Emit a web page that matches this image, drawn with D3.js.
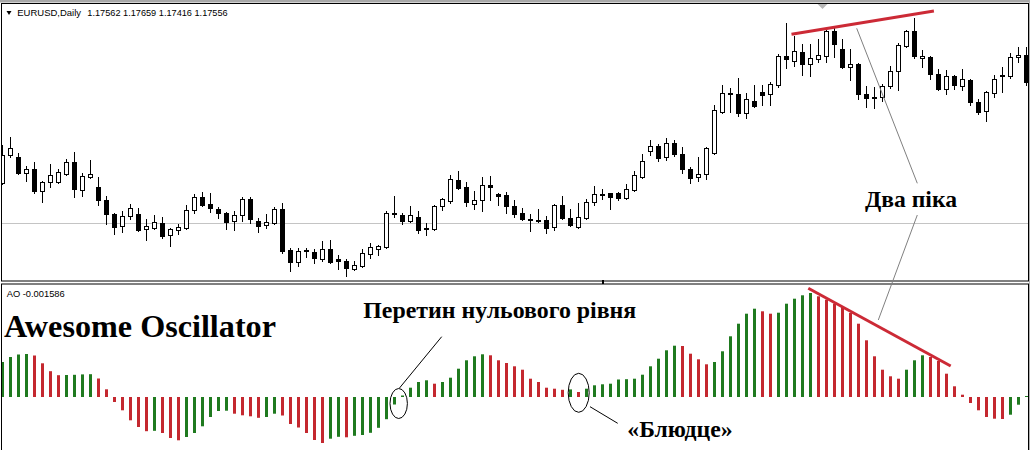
<!DOCTYPE html>
<html><head><meta charset="utf-8">
<script src="https://cdn.jsdelivr.net/npm/d3@7"></script>
<style>body{margin:0;background:#fff;overflow:hidden}svg{display:block}</style>
</head><body>
<svg id="c" width="1030" height="450"></svg>
<script>
// ---- data (daily EURUSD candles) ----
const openPrice = [1.1285,1.1425,1.1415,1.1335,1.1355,1.1245,1.1290,1.1290,1.1330,1.1390,
1.1250,1.1315,1.1265,1.1200,1.1130,1.1070,1.1120,1.1130,1.1055,1.1060,
1.1085,1.1025,1.1050,1.1060,1.1150,1.1215,1.1180,1.1155,1.1135,1.1095,
1.1125,1.1205,1.1095,1.1075,1.1085,1.1155,1.0950,1.0890,1.0950,1.0940,
1.0905,1.0955,1.0905,1.0895,1.0855,1.0870,1.0930,1.0955,1.0965,1.1135,
1.1125,1.1095,1.1115,1.1060,1.1055,1.1170,1.1195,1.1300,1.1265,1.1180,
1.1200,1.1275,1.1230,1.1225,1.1170,1.1135,1.1105,1.1100,1.1100,1.1065,
1.1175,1.1110,1.1065,1.1110,1.1190,1.1230,1.1235,1.1235,1.1210,1.1250,
1.1315,1.1445,1.1470,1.1415,1.1485,1.1430,1.1355,1.1315,1.1330,1.1435,
1.1640,1.1735,1.1730,1.1635,1.1695,1.1740,1.1730,1.1775,1.1920,1.1895,
1.1940,1.1880,1.1905,1.1920,1.2045,1.1955,1.1865,1.1880,1.1730,1.1715,
1.1715,1.1770,1.1845,1.1970,1.2045,1.1910,1.1915,1.1830,1.1755,1.1820,
1.1770,1.1800,1.1690,1.1645,1.1735,1.1825,1.1820,1.1915,1.1925];
const highPrice = [1.1475,1.1515,1.1435,1.1370,1.1390,1.1295,1.1380,1.1355,1.1405,1.1440,
1.1335,1.1400,1.1315,1.1220,1.1135,1.1145,1.1180,1.1160,1.1105,1.1125,
1.1115,1.1060,1.1080,1.1175,1.1230,1.1240,1.1235,1.1165,1.1140,1.1145,
1.1215,1.1215,1.1110,1.1130,1.1165,1.1185,1.0960,1.0960,1.0960,1.0955,
1.0995,1.1000,1.0925,1.0905,1.0895,1.0955,1.0985,1.0975,1.1145,1.1220,
1.1135,1.1170,1.1145,1.1085,1.1175,1.1210,1.1325,1.1345,1.1290,1.1245,
1.1315,1.1320,1.1235,1.1240,1.1200,1.1160,1.1130,1.1155,1.1120,1.1180,
1.1220,1.1155,1.1185,1.1205,1.1270,1.1255,1.1235,1.1240,1.1280,1.1345,
1.1430,1.1500,1.1480,1.1510,1.1500,1.1465,1.1365,1.1415,1.1465,1.1675,
1.1775,1.1760,1.1810,1.1735,1.1775,1.1775,1.1790,1.1930,1.2085,1.2020,
1.1980,1.1980,1.2005,1.2055,1.2060,1.2005,1.1955,1.1885,1.1770,1.1765,
1.1780,1.1870,1.1985,1.2050,1.2110,1.1950,1.1920,1.1855,1.1850,1.1825,
1.1855,1.1805,1.1705,1.1745,1.1825,1.1865,1.1935,1.1965,1.1965];
const lowPrice = [1.1280,1.1415,1.1330,1.1295,1.1235,1.1190,1.1265,1.1285,1.1325,1.1215,
1.1220,1.1310,1.1175,1.1080,1.1030,1.1040,1.1105,1.1045,1.1000,1.1055,
1.1010,1.0970,1.1030,1.1055,1.1135,1.1170,1.1140,1.1110,1.1055,1.1050,
1.1095,1.1085,1.1040,1.1060,1.1080,1.0935,1.0845,1.0870,1.0915,1.0885,
1.0895,1.0885,1.0855,1.0820,1.0850,1.0865,1.0910,1.0925,1.0960,1.1115,
1.1080,1.1090,1.1035,1.1025,1.1050,1.1150,1.1185,1.1255,1.1170,1.1155,
1.1145,1.1200,1.1175,1.1135,1.1115,1.1100,1.1045,1.1090,1.1035,1.1050,
1.1105,1.1070,1.1060,1.1105,1.1175,1.1205,1.1155,1.1200,1.1205,1.1245,
1.1310,1.1425,1.1395,1.1400,1.1420,1.1335,1.1285,1.1295,1.1305,1.1430,
1.1635,1.1640,1.1620,1.1610,1.1665,1.1675,1.1675,1.1765,1.1860,1.1870,
1.1825,1.1820,1.1890,1.1890,1.1915,1.1860,1.1800,1.1705,1.1665,1.1660,
1.1695,1.1760,1.1750,1.1965,1.1910,1.1865,1.1805,1.1750,1.1730,1.1755,
1.1750,1.1675,1.1630,1.1595,1.1715,1.1740,1.1810,1.1890,1.1775];
const closePrice = [1.1425,1.1460,1.1335,1.1355,1.1245,1.1290,1.1325,1.1340,1.1390,1.1255,
1.1320,1.1330,1.1200,1.1130,1.1065,1.1120,1.1160,1.1050,1.1070,1.1090,
1.1020,1.1055,1.1065,1.1150,1.1215,1.1175,1.1160,1.1135,1.1090,1.1125,
1.1205,1.1105,1.1070,1.1090,1.1155,1.0945,1.0890,1.0945,1.0945,1.0910,
1.0955,1.0890,1.0895,1.0860,1.0875,1.0935,1.0965,1.0970,1.1135,1.1130,
1.1095,1.1125,1.1050,1.1055,1.1170,1.1205,1.1305,1.1260,1.1190,1.1200,
1.1275,1.1265,1.1220,1.1170,1.1130,1.1105,1.1100,1.1095,1.1060,1.1175,
1.1110,1.1075,1.1115,1.1190,1.1230,1.1225,1.1215,1.1210,1.1255,1.1325,
1.1395,1.1470,1.1410,1.1485,1.1430,1.1355,1.1310,1.1330,1.1460,1.1650,
1.1735,1.1730,1.1635,1.1705,1.1670,1.1725,1.1780,1.1920,1.1905,1.1945,
1.1880,1.1910,1.1925,1.2045,1.1980,1.1865,1.1880,1.1730,1.1710,1.1710,
1.1770,1.1845,1.1975,1.2045,1.1920,1.1920,1.1830,1.1755,1.1820,1.1775,
1.1805,1.1690,1.1640,1.1740,1.1805,1.1820,1.1915,1.1925,1.1790];
// Awesome Oscillator values
const aoValues = [0.00350,0.00400,0.00425,0.00430,0.00415,0.00337,0.00258,0.00218,0.00220,0.00222,
0.00226,0.00228,0.00185,0.00077,-0.00050,-0.00133,-0.00233,-0.00300,-0.00342,-0.00338,
-0.00360,-0.00410,-0.00433,-0.00400,-0.00360,-0.00293,-0.00200,-0.00140,-0.00137,-0.00167,
-0.00183,-0.00193,-0.00208,-0.00200,-0.00167,-0.00185,-0.00270,-0.00305,-0.00360,-0.00430,
-0.00460,-0.00417,-0.00398,-0.00403,-0.00388,-0.00380,-0.00358,-0.00308,-0.00222,-0.00075,
0.00015,0.00093,0.00150,0.00167,0.00133,0.00150,0.00193,0.00283,0.00367,0.00407,
0.00427,0.00417,0.00367,0.00340,0.00307,0.00273,0.00183,0.00150,0.00093,0.00083,
0.00072,0.00076,0.00050,0.00083,0.00117,0.00127,0.00133,0.00175,0.00178,0.00183,
0.00223,0.00307,0.00383,0.00467,0.00513,0.00510,0.00433,0.00377,0.00327,0.00350,
0.00457,0.00607,0.00733,0.00833,0.00883,0.00857,0.00833,0.00843,0.00933,0.00983,
0.01017,0.01040,0.01007,0.00973,0.00933,0.00900,0.00840,0.00733,0.00567,0.00407,
0.00273,0.00207,0.00183,0.00273,0.00367,0.00417,0.00400,0.00360,0.00233,0.00107,
0.00023,-0.00060,-0.00133,-0.00200,-0.00217,-0.00220,-0.00177,-0.00077,0.00010];
const levelPrice = 1.1083;
const headerSymbol = "EURUSD,Daily";
const headerPrices = "1.17562 1.17659 1.17416 1.17556";
const aoLabel = "AO -0.001586";
const titleText = "Awesome Oscillator";
const crossLabel = "Перетин нульового рівня";
const saucerLabel = "«Блюдце»";
const peaksLabel = "Два піка";
// annotation anchors in data space: [bar index, value]
const pricePeakLine = [[98.6, 1.2029], [116.4, 1.2145]];
const aoPeakLine = [[100.7, 0.01087], [118.5, 0.00310]];
const crossEllipse = [49.5, -0.00065];
const saucerEllipse = [72.0, 0.00042];

// ---- drawing ----
const svg = d3.select("#c");
const idx = d3.range(openPrice.length);
const x = d3.scaleLinear().domain([0, openPrice.length - 1]).range([2.7, 1026.7]);
const y = d3.scaleLinear().domain([1.07, 1.22]).range([300, 0]);
const ya = d3.scaleLinear().domain([-0.005, 0.011]).range([447, 287]);
const GREEN = "#1f7a1f", RED = "#c4282f", ANN = "#cc2a36";
const serif = "'Liberation Serif','Times New Roman',serif";
const sans = "'Liberation Sans',Arial,sans-serif";

svg.append("rect").attr("width",1030).attr("height",450).attr("fill","#fff");
svg.append("rect").attr("x",0).attr("y",0).attr("width",1030).attr("height",2.5).attr("fill","#a8a8a8");
svg.append("rect").attr("x",1029).attr("y",0).attr("width",1).attr("height",450).attr("fill","#b0b0b0");

const defs = svg.append("defs");
defs.append("clipPath").attr("id","cpTop").append("rect").attr("x",2).attr("y",4).attr("width",1026).attr("height",277);
defs.append("clipPath").attr("id","cpBot").append("rect").attr("x",2).attr("y",285).attr("width",1026).attr("height",170);

const topG = svg.append("g").attr("clip-path","url(#cpTop)");
topG.append("line").attr("x1",2).attr("x2",1028)
  .attr("y1",Math.round(y(levelPrice))+0.5).attr("y2",Math.round(y(levelPrice))+0.5)
  .attr("stroke","#c4c4c4").attr("stroke-width",1);

const cg = topG.selectAll("g.c").data(idx).join("g").attr("class","c");
cg.append("line")
  .attr("x1",i=>Math.floor(x(i))+0.5).attr("x2",i=>Math.floor(x(i))+0.5)
  .attr("y1",i=>Math.round(y(highPrice[i]))).attr("y2",i=>Math.round(y(lowPrice[i]))+1)
  .attr("stroke","#000").attr("stroke-width",1);
cg.append("rect")
  .attr("x",i=>Math.floor(x(i))-2+0.5)
  .attr("width",4)
  .attr("y",i=>Math.round(y(Math.max(openPrice[i],closePrice[i])))+0.5)
  .attr("height",i=>Math.round(y(Math.min(openPrice[i],closePrice[i])))-Math.round(y(Math.max(openPrice[i],closePrice[i]))))
  .attr("fill",i=>closePrice[i]>=openPrice[i]?"#fff":"#000")
  .attr("stroke","#000").attr("stroke-width",1);

// frames
svg.append("rect").attr("x",1.5).attr("y",3.5).attr("width",1027).attr("height",277.5)
  .attr("fill","none").attr("stroke","#000");
svg.append("rect").attr("x",1.5).attr("y",284).attr("width",1027).attr("height",170)
  .attr("fill","none").attr("stroke","#000");
svg.append("rect").attr("x",602).attr("y",280).attr("width",2).attr("height",4).attr("fill","#000");
svg.append("path").attr("d","M817.5,4 L827.5,4 L822.5,9 Z").attr("fill","#b8b8b8");

// header
svg.append("path").attr("d","M6.5,11 L11.5,11 L9,15 Z").attr("fill","#000");
svg.append("text").attr("x",17.3).attr("y",16.3).attr("font-family",sans).attr("font-size",9.6)
  .attr("textLength",63.7).attr("lengthAdjust","spacingAndGlyphs").text(headerSymbol);
svg.append("text").attr("x",87.3).attr("y",16.3).attr("font-family",sans).attr("font-size",9.6)
  .attr("textLength",140.4).attr("lengthAdjust","spacingAndGlyphs").text(headerPrices);
svg.append("text").attr("x",6.7).attr("y",296.7).attr("font-family",sans).attr("font-size",9.6)
  .attr("textLength",58).attr("lengthAdjust","spacingAndGlyphs").text(aoLabel);

// AO bars
const botG = svg.append("g").attr("clip-path","url(#cpBot)");
botG.selectAll("rect.ao").data(idx).join("rect").attr("class","ao")
  .attr("x",i=>Math.floor(x(i))-1)
  .attr("width",3)
  .attr("y",i=>ya(Math.max(0,aoValues[i])))
  .attr("height",i=>Math.max(0.8,Math.abs(ya(aoValues[i])-ya(0))))
  .attr("fill",i=>(i===0 || aoValues[i]>aoValues[i-1]) ? GREEN : RED);

// annotations
const lp = d3.line().x(d=>x(d[0])).y(d=>y(d[1]));
const la = d3.line().x(d=>x(d[0])).y(d=>ya(d[1]));
svg.append("path").attr("d",lp(pricePeakLine)).attr("stroke",ANN).attr("stroke-width",3).attr("fill","none");
svg.append("path").attr("d",la(aoPeakLine)).attr("stroke",ANN).attr("stroke-width",3).attr("fill","none");

svg.append("line").attr("x1",856.7).attr("y1",28.3).attr("x2",917.3).attr("y2",183.3)
  .attr("stroke","#808080").attr("stroke-width",1);
svg.append("line").attr("x1",917.3).attr("y1",215).attr("x2",878.3).attr("y2",320)
  .attr("stroke","#808080").attr("stroke-width",1);

svg.append("ellipse").attr("cx",x(crossEllipse[0])).attr("cy",ya(crossEllipse[1]))
  .attr("rx",8.7).attr("ry",15).attr("fill","none").attr("stroke","#000").attr("stroke-width",1);
svg.append("ellipse").attr("cx",x(saucerEllipse[0])).attr("cy",ya(saucerEllipse[1]))
  .attr("rx",10.5).attr("ry",19.5).attr("fill","none").attr("stroke","#000").attr("stroke-width",1);
svg.append("line").attr("x1",441.7).attr("y1",336.7).attr("x2",399.5).attr("y2",388)
  .attr("stroke","#000").attr("stroke-width",1);
svg.append("line").attr("x1",590).attr("y1",406.7).attr("x2",617.7).attr("y2",423.3)
  .attr("stroke","#000").attr("stroke-width",1);

function bigText(t, tx, ty, size, len){
  svg.append("text").attr("x",tx).attr("y",ty).attr("font-family",serif).attr("font-weight","bold")
    .attr("font-size",size).attr("fill","#000")
    .attr("textLength",len).attr("lengthAdjust","spacingAndGlyphs").text(t);
}
bigText(titleText, 4, 336.7, 32, 272);
bigText(crossLabel, 363.3, 318.3, 23, 273);
bigText(saucerLabel, 627.3, 436.7, 23, 105.4);
bigText(peaksLabel, 865, 206.7, 23, 92);
</script>
</body></html>
